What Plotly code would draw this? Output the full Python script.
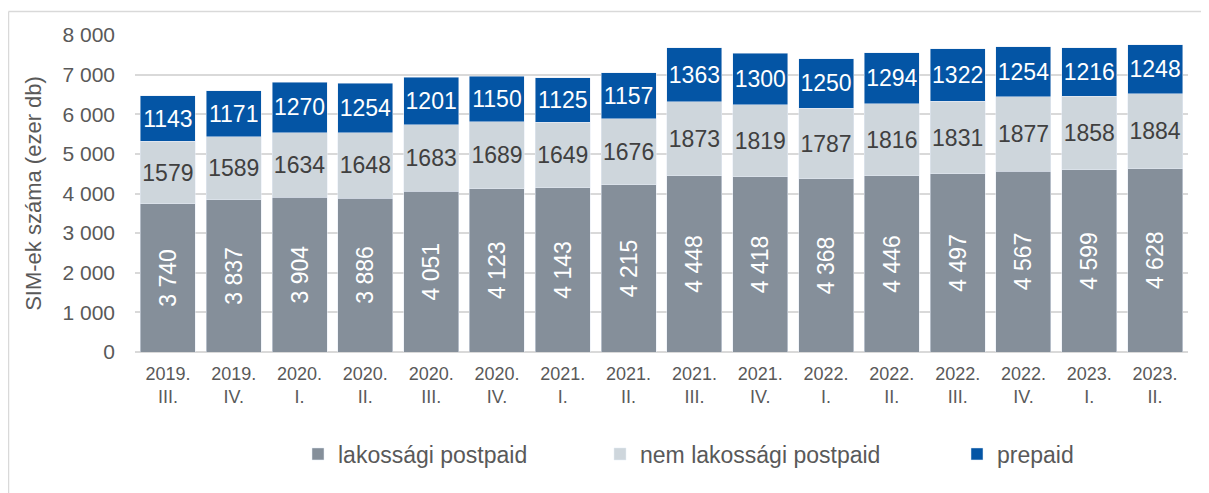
import plotly.graph_objects as go

categories = ["2019.<br>III.", "2019.<br>IV.", "2020.<br>I.", "2020.<br>II.", "2020.<br>III.", "2020.<br>IV.",
              "2021.<br>I.", "2021.<br>II.", "2021.<br>III.", "2021.<br>IV.", "2022.<br>I.", "2022.<br>II.",
              "2022.<br>III.", "2022.<br>IV.", "2023.<br>I.", "2023.<br>II."]
lakossagi = [3740, 3837, 3904, 3886, 4051, 4123, 4143, 4215, 4448, 4418, 4368, 4446, 4497, 4567, 4599, 4628]
nem_lakossagi = [1579, 1589, 1634, 1648, 1683, 1689, 1649, 1676, 1873, 1819, 1787, 1816, 1831, 1877, 1858, 1884]
prepaid = [1143, 1171, 1270, 1254, 1201, 1150, 1125, 1157, 1363, 1300, 1250, 1294, 1322, 1254, 1216, 1248]
y_ticks = [0, 1000, 2000, 3000, 4000, 5000, 6000, 7000, 8000]

def sp(v):
    return f"{v:,}".replace(",", " ")

FONT = "Liberation Sans, Arial, sans-serif"
OFF = 8  # page body margin
W, H = 1209 - OFF, 493 - OFF
# plot area in page coordinates
PL, PR, PT, PB = 135, 1188, 35, 352
L, R, T, B = PL - OFF, W - (PR - OFF), PT - OFF, H - (PB - OFF)
PW = W - L - R
PH = H - T - B

def px(x):  # page x -> paper x
    return (x - OFF - L) / PW

def py(y):  # page y -> paper y
    return (H - B - (y - OFF)) / PH

fig = go.Figure()
fig.add_trace(go.Bar(
    x=categories, y=lakossagi, name="lakossági postpaid", marker_color="#858f9a",
    text=[sp(v) for v in lakossagi], textposition="inside", insidetextanchor="middle",
    constraintext="none", cliponaxis=False,
    textangle=-90, textfont=dict(color="white", size=23, family=FONT), legend="legend"))
fig.add_trace(go.Bar(
    x=categories, y=nem_lakossagi, name="nem lakossági postpaid", marker_color="#ced6dc",
    text=[str(v) for v in nem_lakossagi], textposition="inside", insidetextanchor="middle",
    constraintext="none", cliponaxis=False,
    textangle=0, textfont=dict(color="#404040", size=23, family=FONT), legend="legend2"))
fig.add_trace(go.Bar(
    x=categories, y=prepaid, name="prepaid", marker_color="#0455a5",
    text=[str(v) for v in prepaid], textposition="inside", insidetextanchor="middle",
    constraintext="none", cliponaxis=False,
    textangle=0, textfont=dict(color="white", size=23, family=FONT), legend="legend3"))

leg_common = dict(orientation="h", yanchor="middle", xanchor="left",
                  font=dict(size=23, color="#595959", family=FONT), bgcolor="rgba(0,0,0,0)",
                  itemwidth=30, visible=True)
fig.update_layout(
    barmode="stack", bargap=0.165,
    width=W, height=H, showlegend=True,
    margin=dict(l=L, r=R, t=T, b=B, autoexpand=False),
    paper_bgcolor="white", plot_bgcolor="white",
    font=dict(family=FONT, color="#595959"),
    legend=dict(x=px(298), y=py(454), **leg_common),
    legend2=dict(x=px(600), y=py(454), **leg_common),
    legend3=dict(x=px(957), y=py(454), **leg_common),
    xaxis=dict(tickfont=dict(size=18, color="#595959"), showline=False, ticks="",
               ticklabelstandoff=9, automargin=False),
    yaxis=dict(range=[0, 8000], tickvals=y_ticks, ticktext=[sp(v) for v in y_ticks],
               tickfont=dict(size=21, color="#595959"), showgrid=True, gridcolor="#d9d9d9",
               gridwidth=1.5, zeroline=True, zerolinecolor="#d9d9d9", zerolinewidth=1.5,
               ticklabelstandoff=19, automargin=False,
               title=dict(text="SIM-ek száma (ezer db)", font=dict(size=22, color="#595959"),
                          standoff=14)),
)
fig.add_shape(type="line", xref="paper", yref="paper", x0=px(8.5), x1=px(1209), y0=py(11.5), y1=py(11.5),
              line=dict(color="#d9d9d9", width=1.5))
fig.add_shape(type="line", xref="paper", yref="paper", x0=px(8.5), x1=px(8.5), y0=py(493), y1=py(11.5),
              line=dict(color="#d9d9d9", width=1.5))
fig.write_html("out.html")
